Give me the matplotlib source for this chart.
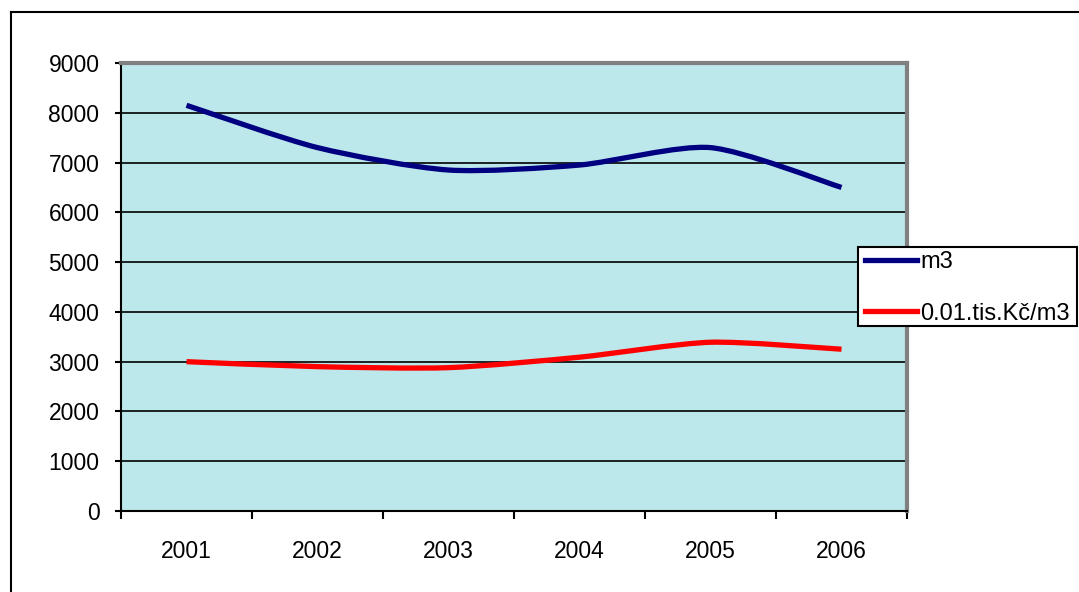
import numpy as np
import matplotlib
matplotlib.use('Agg')
import matplotlib.pyplot as plt
from matplotlib.path import Path
from matplotlib.patches import PathPatch, Rectangle
from matplotlib.lines import Line2D

plt.rcParams['font.family'] = ['Liberation Sans', 'DejaVu Sans']

years = ['2001', '2002', '2003', '2004', '2005', '2006']
m3 = [8150, 7300, 6850, 6950, 7300, 6500]
cena = [3000, 2900, 2880, 3090, 3390, 3250]
labels = ['m3', '0.01.tis.Kč/m3']
colors = ['#000080', '#FF0000']

FS = 16.5
W, H = 1079, 592


def smooth_path(x, y, k=8):
    # Excel-like smoothed line: cubic Bezier segments through the points
    pts = np.column_stack([x, y]).astype(float)
    n = len(pts)
    verts = [pts[0]]
    codes = [Path.MOVETO]
    for i in range(n - 1):
        p0 = pts[i - 1] if i > 0 else pts[i]
        p1, p2 = pts[i], pts[i + 1]
        p3 = pts[i + 2] if i + 2 < n else pts[i + 1]
        c1 = p1 + (p2 - p0) / k
        c2 = p2 - (p3 - p1) / k
        verts += [c1, c2, p2]
        codes += [Path.CURVE4] * 3
    return Path(verts, codes)


fig = plt.figure(figsize=(W/100, H/100), dpi=100)
ax = fig.add_axes([121/W, 1 - 511/H, (907-121)/W, (511-63)/H])
ax.set_facecolor('#BCE8EC')

x = np.arange(len(years)) + 0.5
for vals, c in zip([m3, cena], colors):
    ax.add_patch(PathPatch(smooth_path(x, vals), fill=False, edgecolor=c,
                           lw=3.8, capstyle='butt', zorder=3))

ax.set_xlim(0, 6)
ax.set_ylim(0, 9000)
ax.set_yticks(range(0, 9001, 1000))
ax.yaxis.grid(True, color='black', lw=1.2)
ax.set_axisbelow(True)
ax.set_xticks(range(0, 7))
ax.set_xticklabels([])
ax.set_xticks(x, minor=True)
ax.set_xticklabels(years, minor=True, fontsize=FS)
ax.tick_params(axis='x', which='major', length=5.5, width=1.5, color='black')
ax.tick_params(axis='x', which='minor', length=0, pad=21)
ax.tick_params(axis='y', length=4.5, width=1.5, pad=11, labelsize=FS)

for s in ax.spines.values():
    s.set_color('#808080')
    s.set_linewidth(3)
for s in ['left', 'bottom']:
    ax.spines[s].set_color('black')
    ax.spines[s].set_linewidth(1.5)

# outer chart frame (continues off the right/bottom edge)
fig.add_artist(Line2D([11/W, 11/W], [0, 1 - 12/H], color='black', lw=1.5))
fig.add_artist(Line2D([11/W, 1], [1 - 12/H, 1 - 12/H], color='black', lw=1.5))

# legend box drawn separately, entries placed inside it
fig.add_artist(Rectangle((858/W, 1 - 326/H), (1077-858)/W, (326-247)/H,
                         transform=fig.transFigure, facecolor='white',
                         edgecolor='black', lw=1.5, zorder=5))
handles = [Line2D([], [], color=c, lw=3.8) for c in colors]
leg = fig.legend(handles, labels, loc='center left',
                 bbox_to_anchor=(865/W, 1 - 288/H),
                 fontsize=17, frameon=False, borderpad=0,
                 labelspacing=1.25, handlelength=2.2,
                 handletextpad=0.15, borderaxespad=0)
leg.set_zorder(6)

fig.savefig('out.png', dpi=100)
